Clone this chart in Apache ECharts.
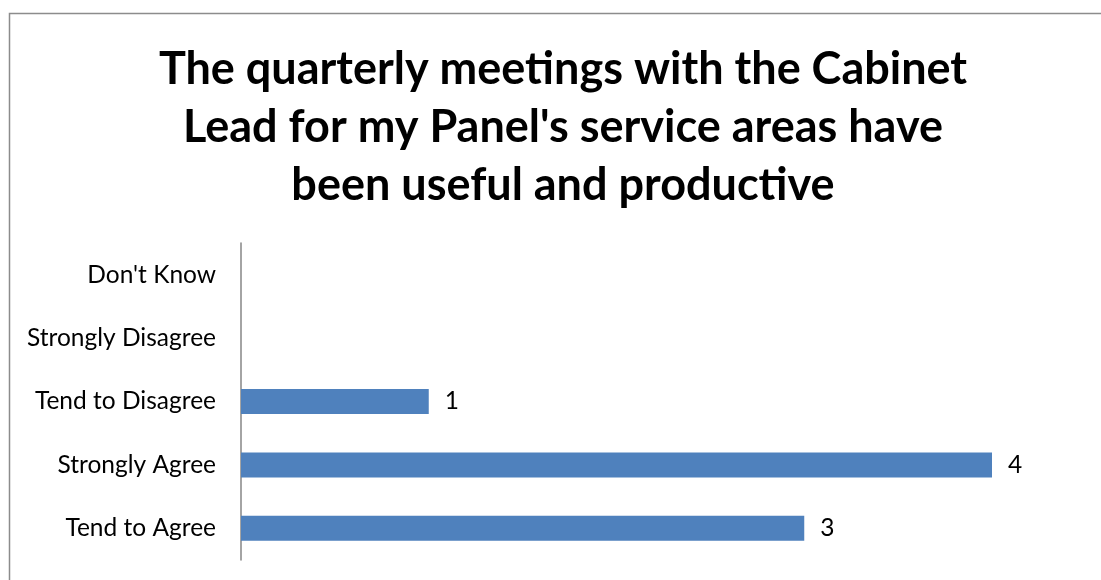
<!DOCTYPE html>
<html>
<head>
<meta charset="utf-8">
<script src="https://cdn.jsdelivr.net/npm/echarts@6/dist/echarts.min.js"></script>
<style>
  html, body { margin: 0; padding: 0; background: #ffffff; }
  #chart { width: 1101px; height: 580px; }
</style>
</head>
<body>
<div id="chart"></div>
<script>
// Survey responses, listed bottom to top as they appear on the axis
const categories = ['Tend to Agree', 'Strongly Agree', 'Tend to Disagree', 'Strongly Disagree', "Don't Know"];
const responses = [3, 4, 1, 0, 0];
const titleText = "The quarterly meetings with the Cabinet\nLead for my Panel's service areas have\nbeen useful and productive";

const chart = echarts.init(document.getElementById('chart'), null, { renderer: 'canvas' });

chart.setOption({
  backgroundColor: '#ffffff',
  animation: false,
  graphic: [{
    type: 'rect',
    shape: { x: 9.5, y: 13.5, width: 1200, height: 700 },
    style: { fill: 'none', stroke: '#8c8c8c', lineWidth: 1.5 },
    silent: true
  }],
  title: {
    text: titleText,
    left: 558,
    top: 35,
    textAlign: 'center',
    textStyle: {
      fontFamily: 'Lato',
      fontWeight: 'bold',
      fontSize: 45,
      lineHeight: 58,
      color: '#000000'
    }
  },
  grid: { left: 241, right: 109, top: 243, bottom: 20, containLabel: false },
  xAxis: {
    type: 'value',
    min: 0,
    max: 4,
    show: false
  },
  yAxis: {
    type: 'category',
    data: categories,
    axisLine: { show: true, lineStyle: { color: '#868686', width: 1.5 } },
    axisTick: { show: false },
    splitLine: { show: false },
    axisLabel: {
      margin: 25,
      color: '#000000',
      fontFamily: 'Lato',
      fontSize: 24.5
    }
  },
  series: [{
    type: 'bar',
    data: responses,
    barWidth: 25,
    itemStyle: { color: '#4F81BD' },
    label: {
      show: true,
      position: 'right',
      distance: 16,
      color: '#000000',
      fontFamily: 'Lato',
      fontSize: 24.5,
      formatter: p => (p.value === 0 ? '' : String(p.value))
    }
  }]
});
</script>
</body>
</html>
